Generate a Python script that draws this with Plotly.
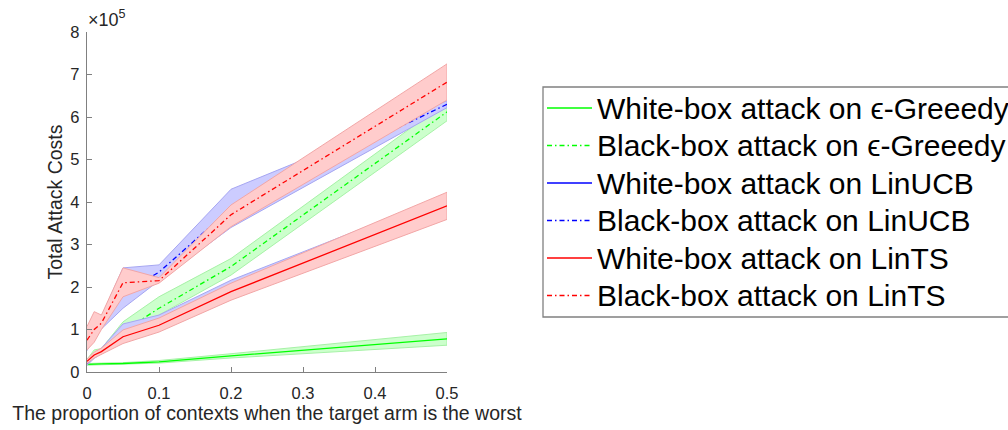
import plotly.graph_objects as go

# x positions (proportion of contexts when the target arm is the worst)
x_vals = [0, 0.01, 0.02, 0.05, 0.1, 0.2, 0.5]

# values in units of 1e5
wb_greedy = [0.18, 0.18, 0.19, 0.20, 0.24, 0.38, 0.78]
wb_greedy_lo = [0.16, 0.16, 0.17, 0.18, 0.21, 0.33, 0.63]
wb_greedy_hi = [0.20, 0.20, 0.21, 0.22, 0.27, 0.43, 0.93]

bb_greedy = [0.25, 0.42, 0.50, 0.95, 1.50, 2.48, 6.12]
bb_greedy_lo = [0.20, 0.35, 0.42, 0.75, 1.34, 2.28, 5.91]
bb_greedy_hi = [0.30, 0.52, 0.55, 1.18, 1.77, 2.67, 6.36]

wb_ucb = [0.20, 0.38, 0.50, 0.95, 1.20, 2.00, 3.95]
wb_ucb_lo = [0.16, 0.32, 0.42, 0.75, 1.05, 1.85, 3.70]
wb_ucb_hi = [0.24, 0.44, 0.56, 1.13, 1.34, 2.16, 4.16]

bb_ucb = [0.60, 1.00, 1.15, 1.85, 2.35, 3.85, 6.30]
bb_ucb_lo = [0.50, 0.85, 1.00, 1.50, 2.15, 3.40, 6.22]
bb_ucb_hi = [0.70, 1.15, 1.30, 2.45, 2.52, 4.30, 6.38]

wb_ts = [0.25, 0.40, 0.48, 0.83, 1.10, 1.89, 3.91]
wb_ts_lo = [0.20, 0.33, 0.40, 0.67, 0.94, 1.69, 3.59]
wb_ts_hi = [0.30, 0.47, 0.56, 0.99, 1.27, 2.09, 4.23]

bb_ts = [0.75, 1.00, 1.15, 2.10, 2.15, 3.70, 6.82]
bb_ts_lo = [0.52, 0.70, 1.00, 1.77, 2.09, 3.42, 6.40]
bb_ts_hi = [1.07, 1.42, 1.34, 2.45, 2.22, 3.93, 7.25]

y_ticks = [0, 1, 2, 3, 4, 5, 6, 7, 8]
x_ticks = [0, 0.1, 0.2, 0.3, 0.4, 0.5]
x_tick_labels = ["0", "0.1", "0.2", "0.3", "0.4", "0.5"]

names = [
    "White-box attack on \u03f5-Greeedy",
    "Black-box attack on \u03f5-Greeedy",
    "White-box attack on LinUCB",
    "Black-box attack on LinUCB",
    "White-box attack on LinTS",
    "Black-box attack on LinTS",
]
mids = [wb_greedy, bb_greedy, wb_ucb, bb_ucb, wb_ts, bb_ts]
los = [wb_greedy_lo, bb_greedy_lo, wb_ucb_lo, bb_ucb_lo, wb_ts_lo, bb_ts_lo]
his = [wb_greedy_hi, bb_greedy_hi, wb_ucb_hi, bb_ucb_hi, wb_ts_hi, bb_ts_hi]

line_colors = ["#00ff00", "#00ff00", "#0000ff", "#0000ff", "#ff0000", "#ff0000"]
fill_colors = ["#ccffcc", "#ccffcc", "#ccccff", "#ccccff", "#ffcccc", "#ffcccc"]
edge_colors = ["#a6f2a6", "#a6f2a6", "#a6a6f2", "#a6a6f2", "#f2a6a6", "#f2a6a6"]
DASHDOT = "5px,3px,1.5px,3px"
dashes = ["solid", DASHDOT, "solid", DASHDOT, "solid", DASHDOT]
legend_dashes = ["solid", DASHDOT, "solid", DASHDOT, "solid", DASHDOT]

fig = go.Figure()
for i in range(6):
    fig.add_trace(go.Scatter(
        x=x_vals + x_vals[::-1],
        y=his[i] + los[i][::-1],
        fill="toself",
        fillcolor=fill_colors[i],
        line=dict(color=edge_colors[i], width=1),
        mode="lines",
        showlegend=False,
        hoverinfo="skip",
    ))
    fig.add_trace(go.Scatter(
        x=x_vals, y=mids[i], mode="lines", name=names[i],
        line=dict(color=line_colors[i], width=1.3, dash=dashes[i]),
        showlegend=False,
    ))

font_family = "Liberation Sans, Arial, sans-serif"
W, H = 1008, 430
L, R, T, B = 87, 561, 32, 58
PW, PH = W - L - R, H - T - B


def px_x(px):
    return (px - L) / PW


def px_y(py):
    return (H - B - py) / PH


fig.update_layout(
    width=W, height=H,
    margin=dict(l=L, r=R, t=T, b=B, autoexpand=False),
    paper_bgcolor="white", plot_bgcolor="white",
    font=dict(family=font_family, color="#262626", size=16),
    showlegend=False,
    xaxis=dict(
        range=[0, 0.5], tickvals=x_ticks, ticktext=x_tick_labels,
        showline=True, linecolor="#808080", linewidth=1.3,
        ticks="inside", ticklen=5, tickcolor="#808080",
        showgrid=False, zeroline=False,
        tickfont=dict(size=16.5, color="#262626"),
        ticklabelstandoff=6,
        title=dict(text="The proportion of contexts when the target arm is the worst",
                   font=dict(size=19.5, color="#262626"), standoff=1),
    ),
    yaxis=dict(
        range=[0, 8], tickvals=y_ticks,
        showline=True, linecolor="#808080", linewidth=1.3,
        ticks="inside", ticklen=5, tickcolor="#808080",
        showgrid=False, zeroline=False,
        tickfont=dict(size=16.5, color="#262626"),
        ticklabelstandoff=3,
        title=dict(text="Total Attack Costs", font=dict(size=19.5, color="#262626"), standoff=2),
    ),
)
fig.add_annotation(
    text="\u00d710<sup>5</sup>", xref="paper", yref="paper", x=px_x(86), y=px_y(32),
    xanchor="left", yanchor="bottom", showarrow=False,
    font=dict(size=18, color="#262626", family=font_family),
)

# Legend (box, line samples, labels)
fig.add_shape(type="rect", xref="paper", yref="paper",
              x0=px_x(543), x1=px_x(1020), y0=px_y(317), y1=px_y(87),
              line=dict(color="#808080", width=1.3), fillcolor="white", layer="above")
row_y = [108, 145.5, 183, 220.5, 258, 295.5]
for i in range(6):
    fig.add_shape(type="line", xref="paper", yref="paper",
                  x0=px_x(547), x1=px_x(592), y0=px_y(row_y[i]), y1=px_y(row_y[i]),
                  line=dict(color=line_colors[i], width=1.5, dash=legend_dashes[i]),
                  layer="above")
    fig.add_annotation(
        text=names[i], xref="paper", yref="paper", x=px_x(595), y=px_y(row_y[i]),
        xanchor="left", yanchor="middle", showarrow=False,
        font=dict(size=30, color="black", family=font_family),
    )

fig.write_html("out.html", config={"displayModeBar": False},
               post_script="document.body.style.margin='0';")
